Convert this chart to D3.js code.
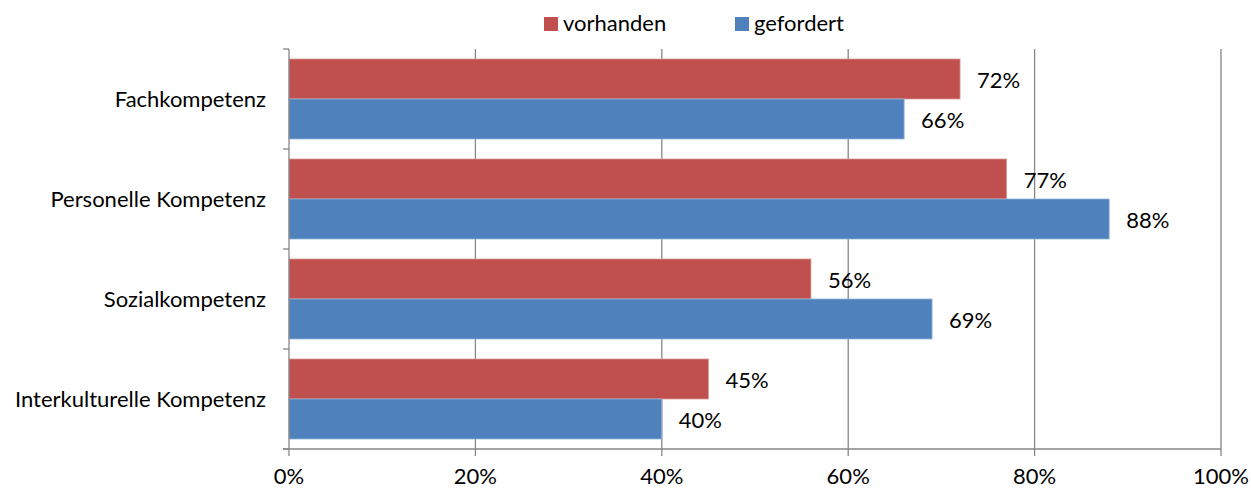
<!DOCTYPE html>
<html><head><meta charset="utf-8">
<script src="https://cdn.jsdelivr.net/npm/d3@7"></script>
<style>body{margin:0;background:#fff}svg{display:block}text{font-family:Lato,"Open Sans",sans-serif;fill:#000}</style>
</head><body><svg id="c" width="1251" height="490"></svg>
<script>
const categories = ["Fachkompetenz","Personelle Kompetenz","Sozialkompetenz","Interkulturelle Kompetenz"];
const seriesNames = ["vorhanden","gefordert"];
const vorhanden = [72,77,56,45];
const gefordert = [66,88,69,40];
const xTicks = [0,20,40,60,80,100];
const colors = ["#C0504D","#4F81BD"];
const strokes = ["#D99694","#95B3D7"];
const FS = 22;

const svg = d3.select("#c");
const m = {l:289, r:1221, t:49, b:449};
const x = d3.scaleLinear().domain([0,100]).range([m.l,m.r]);
const yAll = d3.scaleBand().domain(categories).range([m.t,m.b]);
const ys = d3.scaleBand().domain(seriesNames).range([10,yAll.bandwidth()-10]);

// gridlines
svg.append("g").selectAll("line").data(xTicks.slice(1)).join("line")
  .attr("x1",d=>x(d)).attr("x2",d=>x(d)).attr("y1",m.t).attr("y2",m.b)
  .attr("stroke","#868686").attr("stroke-width",1.3);

const data = [vorhanden,gefordert];
seriesNames.forEach((s,i)=>{
  const g = svg.append("g");
  g.selectAll("rect").data(categories).join("rect")
    .attr("x",x(0)).attr("y",c=>yAll(c)+ys(s))
    .attr("width",(c,j)=>x(data[i][j])-x(0)).attr("height",ys.bandwidth())
    .attr("fill",colors[i]).attr("stroke",strokes[i]).attr("stroke-width",0.8);
  g.selectAll("text").data(categories).join("text")
    .attr("x",(c,j)=>x(data[i][j])+17).attr("y",c=>yAll(c)+ys(s)+ys.bandwidth()/2+9)
    .attr("font-size",FS).text((c,j)=>data[i][j]+"%");
});

// axes
const ax = svg.append("g").attr("stroke","#868686").attr("stroke-width",1.3);
ax.append("line").attr("x1",m.l).attr("x2",m.l).attr("y1",m.t).attr("y2",m.b);
ax.append("line").attr("x1",m.l-6).attr("x2",m.r).attr("y1",m.b).attr("y2",m.b);
ax.selectAll(".yt").data([...categories.map(c=>yAll(c)), m.b]).join("line")
  .attr("x1",m.l-6).attr("x2",m.l).attr("y1",d=>d).attr("y2",d=>d);
ax.selectAll(".xt").data(xTicks).join("line")
  .attr("x1",d=>x(d)).attr("x2",d=>x(d)).attr("y1",m.b).attr("y2",m.b+7);

svg.append("g").selectAll("text").data(xTicks).join("text")
  .attr("x",d=>x(d)).attr("y",484).attr("text-anchor","middle").attr("font-size",FS)
  .text(d=>d+"%");
svg.append("g").selectAll("text").data(categories).join("text")
  .attr("x",266).attr("y",c=>yAll(c)+yAll.bandwidth()/2+8)
  .attr("text-anchor","end").attr("font-size",FS).text(c=>c);

// legend
const lx = [544,735];
seriesNames.forEach((s,i)=>{
  svg.append("rect").attr("x",lx[i]).attr("y",17).attr("width",14).attr("height",14).attr("fill",colors[i]);
  svg.append("text").attr("x",lx[i]+19).attr("y",31).attr("font-size",FS).text(s);
});
</script></body></html>
